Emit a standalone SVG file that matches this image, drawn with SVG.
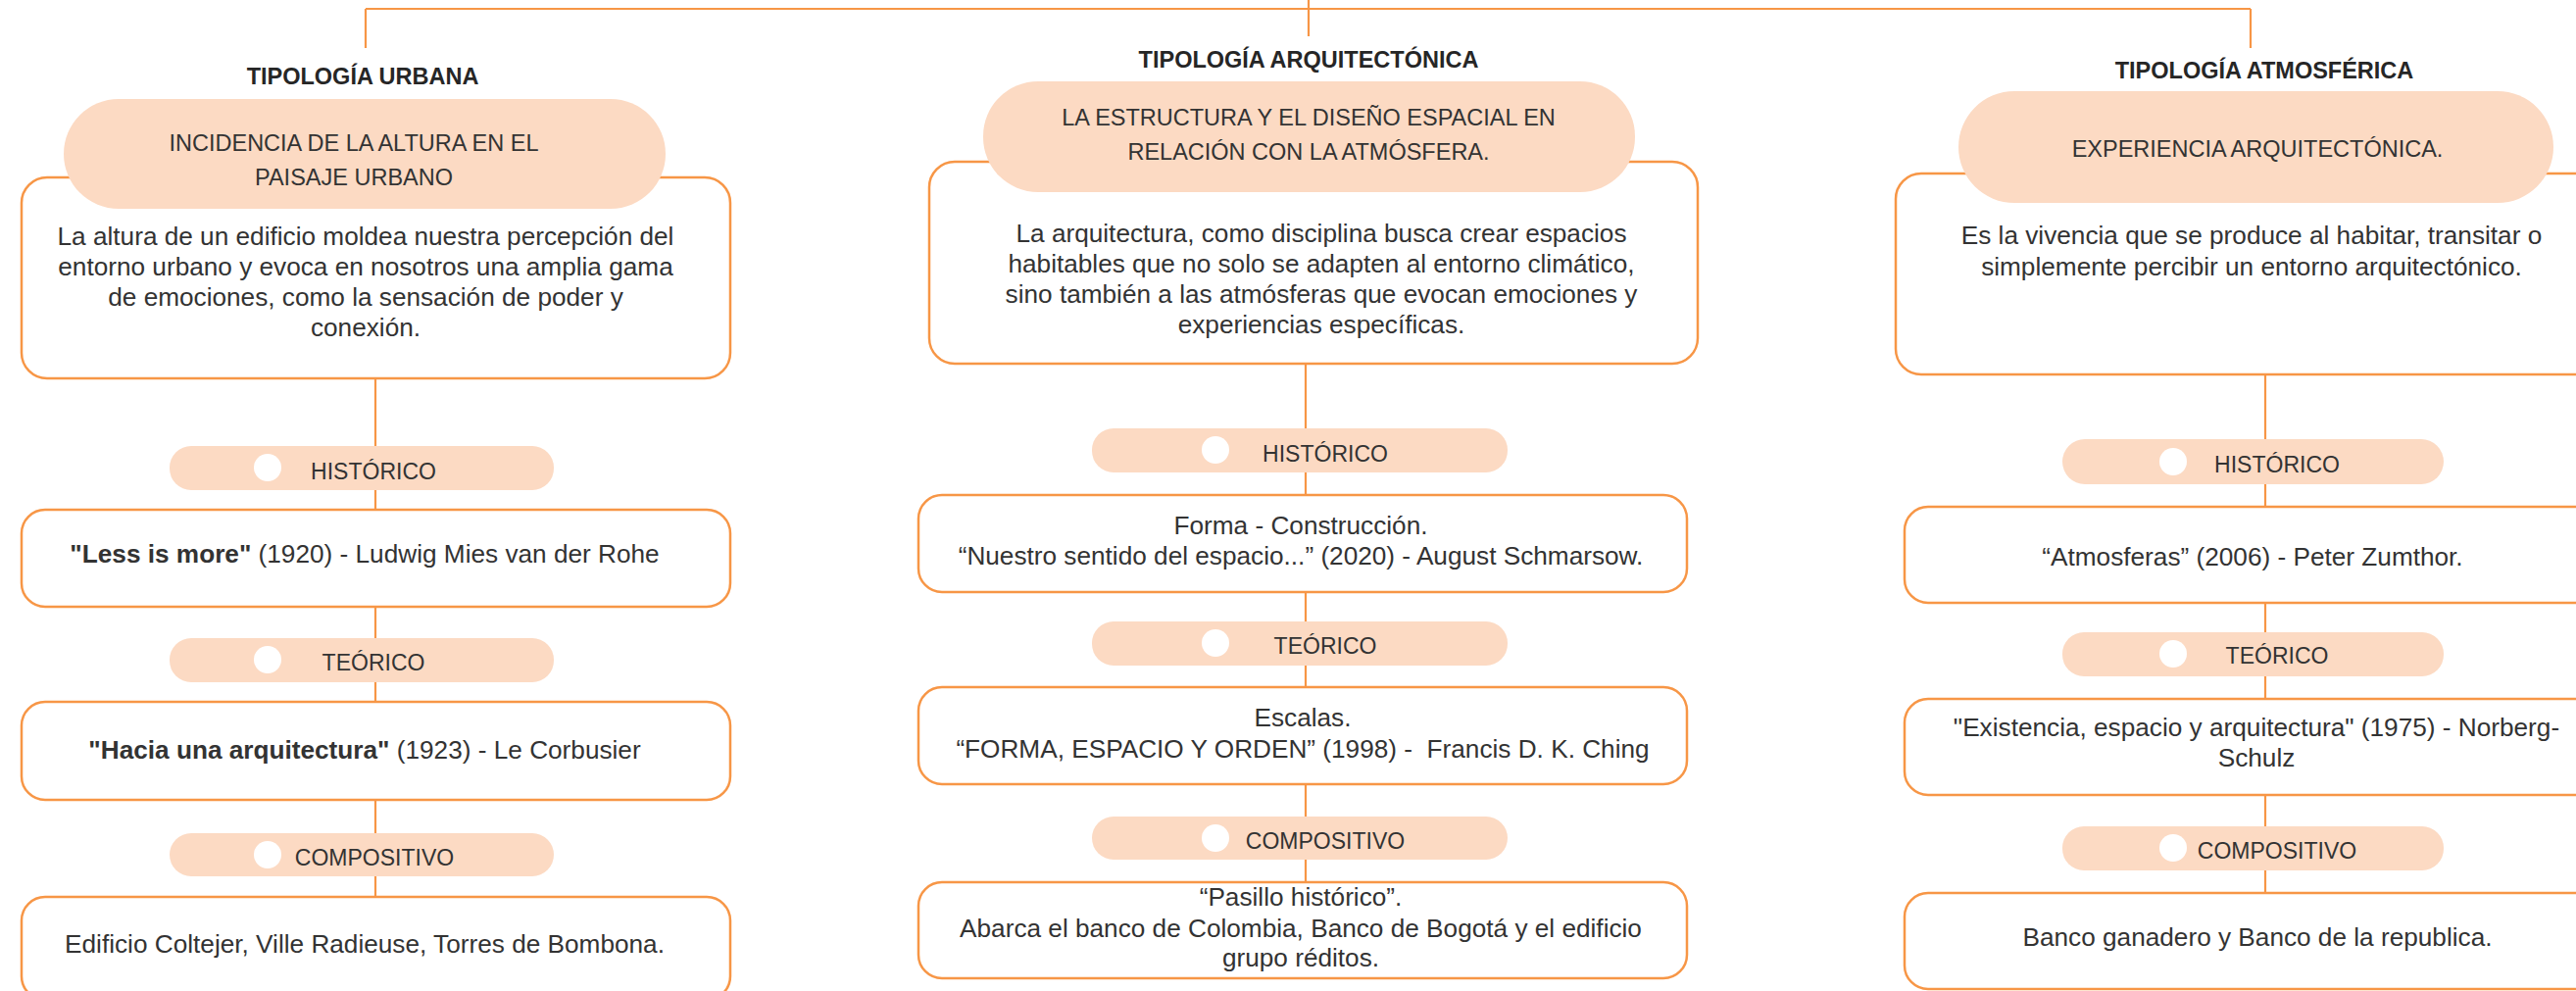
<svg xmlns="http://www.w3.org/2000/svg" width="2628" height="1011" viewBox="0 0 2628 1011">
<style>
.bg{fill:#ffffff}
.con{stroke:#F79646;stroke-width:2.2;fill:none}
.box{fill:#ffffff;stroke:#F79646;stroke-width:2.5}
.pill{fill:#FCDAC3;stroke:none}
.dot{fill:#ffffff}
.t{font-family:"Liberation Sans",Arial,sans-serif;fill:#333333;text-anchor:middle}
.title{font-size:23.5px;font-weight:bold;fill:#262626}
.ph{font-size:23.5px}
.lab{font-size:23px}
.body{font-size:26.2px}
.b{font-weight:bold}
</style>
<rect class="bg" x="0" y="0" width="2628" height="1011"/>
<g id="connectors">
<path class="con" d="M373,9 H2296 M1335,0 V37 M373,9 V49 M2296,9 V49"/>
<path class="con" d="M383,386 V915"/>
<path class="con" d="M1332,371 V900"/>
<path class="con" d="M2311,382 V911"/>
</g>
<g id="urbana">
<text class="t title" x="370" y="86">TIPOLOGÍA URBANA</text>
<rect class="box" x="22" y="181" width="723" height="205" rx="26"/>
<rect class="pill" x="65" y="101" width="614" height="112" rx="56"/>
<text class="t ph" x="361" y="154">INCIDENCIA DE LA ALTURA EN EL</text>
<text class="t ph" x="361" y="189">PAISAJE URBANO</text>
<text class="t body" x="373" y="250">La altura de un edificio moldea nuestra percepción del</text>
<text class="t body" x="373" y="281">entorno urbano y evoca en nosotros una amplia gama</text>
<text class="t body" x="373" y="312">de emociones, como la sensación de poder y</text>
<text class="t body" x="373" y="343">conexión.</text>
</g>
<g id="urbana-historico">
<rect class="pill" x="173" y="455" width="392" height="45" rx="22"/>
<circle class="dot" cx="273" cy="477" r="14"/>
<text class="t lab" x="381" y="489">HISTÓRICO</text>
</g>
<g id="urbana-historico-box">
<rect class="box" x="22" y="520" width="723" height="99" rx="24"/>
<text class="t body" x="372" y="574"><tspan class="b">"Less is more"</tspan> (1920) - Ludwig Mies van der Rohe</text>
</g>
<g id="urbana-teorico">
<rect class="pill" x="173" y="651" width="392" height="45" rx="22"/>
<circle class="dot" cx="273" cy="673" r="14"/>
<text class="t lab" x="381" y="684">TEÓRICO</text>
</g>
<g id="urbana-teorico-box">
<rect class="box" x="22" y="716" width="723" height="100" rx="24"/>
<text class="t body" x="372" y="774"><tspan class="b">"Hacia una arquitectura"</tspan> (1923) - Le Corbusier</text>
</g>
<g id="urbana-compositivo">
<rect class="pill" x="173" y="850" width="392" height="44" rx="22"/>
<circle class="dot" cx="273" cy="872" r="14"/>
<text class="t lab" x="382" y="883">COMPOSITIVO</text>
</g>
<g id="urbana-compositivo-box">
<rect class="box" x="22" y="915" width="723" height="105" rx="24"/>
<text class="t body" x="372" y="972">Edificio Coltejer, Ville Radieuse, Torres de Bombona.</text>
</g>
<g id="arquitectonica">
<text class="t title" x="1335" y="69">TIPOLOGÍA ARQUITECTÓNICA</text>
<rect class="box" x="948" y="165" width="784" height="206" rx="26"/>
<rect class="pill" x="1003" y="83" width="665" height="113" rx="56"/>
<text class="t ph" x="1335" y="128">LA ESTRUCTURA Y EL DISEÑO ESPACIAL EN</text>
<text class="t ph" x="1335" y="163">RELACIÓN CON LA ATMÓSFERA.</text>
<text class="t body" x="1348" y="247">La arquitectura, como disciplina busca crear espacios</text>
<text class="t body" x="1348" y="278">habitables que no solo se adapten al entorno climático,</text>
<text class="t body" x="1348" y="309">sino también a las atmósferas que evocan emociones y</text>
<text class="t body" x="1348" y="340">experiencias específicas.</text>
</g>
<g id="arquitectonica-historico">
<rect class="pill" x="1114" y="437" width="424" height="45" rx="22"/>
<circle class="dot" cx="1240" cy="459" r="14"/>
<text class="t lab" x="1352" y="471">HISTÓRICO</text>
</g>
<g id="arquitectonica-historico-box">
<rect class="box" x="937" y="505" width="784" height="99" rx="24"/>
<text class="t body" x="1327" y="545">Forma - Construcción.</text>
<text class="t body" x="1327" y="576">“Nuestro sentido del espacio...” (2020) - August Schmarsow.</text>
</g>
<g id="arquitectonica-teorico">
<rect class="pill" x="1114" y="634" width="424" height="45" rx="22"/>
<circle class="dot" cx="1240" cy="656" r="14"/>
<text class="t lab" x="1352" y="667">TEÓRICO</text>
</g>
<g id="arquitectonica-teorico-box">
<rect class="box" x="937" y="701" width="784" height="99" rx="24"/>
<text class="t body" x="1329" y="741">Escalas.</text>
<text class="t body" x="1329" y="773" xml:space="preserve">“FORMA, ESPACIO Y ORDEN” (1998) -  Francis D. K. Ching</text>
</g>
<g id="arquitectonica-compositivo">
<rect class="pill" x="1114" y="833" width="424" height="44" rx="22"/>
<circle class="dot" cx="1240" cy="855" r="14"/>
<text class="t lab" x="1352" y="866">COMPOSITIVO</text>
</g>
<g id="arquitectonica-compositivo-box">
<rect class="box" x="937" y="900" width="784" height="98" rx="24"/>
<text class="t body" x="1327" y="924">“Pasillo histórico”.</text>
<text class="t body" x="1327" y="956">Abarca el banco de Colombia, Banco de Bogotá y el edificio</text>
<text class="t body" x="1327" y="986">grupo réditos.</text>
</g>
<g id="atmosferica">
<text class="t title" x="2310" y="80">TIPOLOGÍA ATMOSFÉRICA</text>
<rect class="box" x="1934" y="177" width="740" height="205" rx="26"/>
<rect class="pill" x="1998" y="93" width="607" height="114" rx="57"/>
<text class="t ph" x="2303" y="160">EXPERIENCIA ARQUITECTÓNICA.</text>
<text class="t body" x="2297" y="249">Es la vivencia que se produce al habitar, transitar o</text>
<text class="t body" x="2297" y="281">simplemente percibir un entorno arquitectónico.</text>
</g>
<g id="atmosferica-historico">
<rect class="pill" x="2104" y="448" width="389" height="46" rx="23"/>
<circle class="dot" cx="2217" cy="471" r="14"/>
<text class="t lab" x="2323" y="482">HISTÓRICO</text>
</g>
<g id="atmosferica-historico-box">
<rect class="box" x="1943" y="517" width="730" height="98" rx="24"/>
<text class="t body" x="2298" y="577">“Atmosferas” (2006) - Peter Zumthor.</text>
</g>
<g id="atmosferica-teorico">
<rect class="pill" x="2104" y="645" width="389" height="45" rx="22"/>
<circle class="dot" cx="2217" cy="667" r="14"/>
<text class="t lab" x="2323" y="677">TEÓRICO</text>
</g>
<g id="atmosferica-teorico-box">
<rect class="box" x="1943" y="713" width="730" height="98" rx="24"/>
<text class="t body" x="2302" y="751">"Existencia, espacio y arquitectura" (1975) - Norberg-</text>
<text class="t body" x="2302" y="782">Schulz</text>
</g>
<g id="atmosferica-compositivo">
<rect class="pill" x="2104" y="843" width="389" height="45" rx="22"/>
<circle class="dot" cx="2217" cy="865" r="14"/>
<text class="t lab" x="2323" y="876">COMPOSITIVO</text>
</g>
<g id="atmosferica-compositivo-box">
<rect class="box" x="1943" y="911" width="730" height="98" rx="24"/>
<text class="t body" x="2303" y="965">Banco ganadero y Banco de la republica.</text>
</g>
</svg>
